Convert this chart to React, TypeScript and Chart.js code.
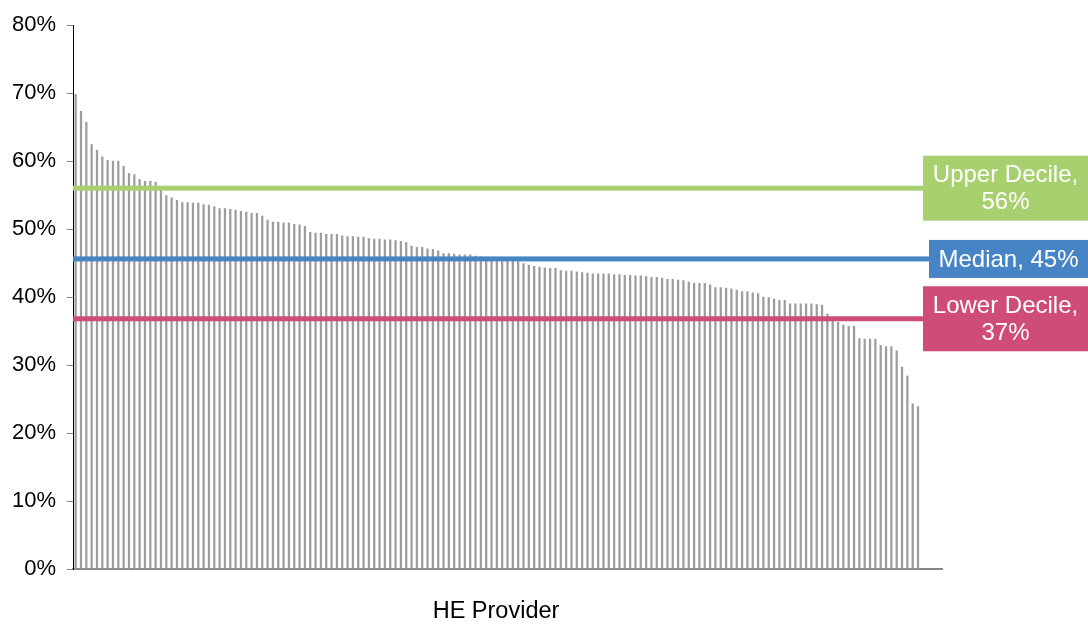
import React, { useEffect, useRef } from 'react';
import { Chart, registerables } from 'chart.js';

Chart.register(...registerables);

// ---- Data ----
const providerCount = 163;
const providers: string[] = Array.from({ length: providerCount }, (_, i) => `Provider ${i + 1}`);

const rates: number[] = [
  69.8, 67.3, 65.7, 62.4, 61.6, 60.6, 60.1, 60.0, 60.0, 59.2,
  58.2, 58.0, 57.3, 57.0, 57.0, 56.9, 56.0, 54.9, 54.6, 54.2,
  53.9, 53.9, 53.8, 53.8, 53.6, 53.5, 53.3, 53.0, 53.0, 52.9,
  52.8, 52.6, 52.5, 52.3, 52.3, 51.9, 51.3, 51.0, 51.0, 50.9,
  50.9, 50.7, 50.6, 50.4, 49.5, 49.4, 49.4, 49.2, 49.2, 49.2,
  49.0, 48.9, 48.9, 48.8, 48.8, 48.6, 48.5, 48.5, 48.4, 48.4,
  48.3, 48.2, 48.0, 47.5, 47.3, 47.3, 47.1, 47.0, 46.8, 46.4,
  46.4, 46.3, 46.2, 46.2, 46.2, 46.0, 45.9, 45.8, 45.7, 45.6,
  45.5, 45.4, 45.3, 45.2, 44.9, 44.7, 44.5, 44.4, 44.3, 44.2,
  44.2, 43.9, 43.8, 43.8, 43.7, 43.6, 43.5, 43.4, 43.4, 43.4,
  43.4, 43.3, 43.3, 43.2, 43.2, 43.1, 43.1, 43.0, 42.9, 42.9,
  42.8, 42.6, 42.6, 42.5, 42.4, 42.2, 42.0, 42.0, 42.0, 41.8,
  41.4, 41.4, 41.3, 41.2, 41.0, 40.8, 40.8, 40.6, 40.5, 40.0,
  39.9, 39.7, 39.5, 39.5, 39.0, 39.0, 39.0, 39.0, 39.0, 38.9,
  38.8, 37.5, 37.0, 36.3, 35.9, 35.7, 35.7, 33.9, 33.8, 33.8,
  33.8, 32.9, 32.7, 32.7, 32.1, 29.7, 28.4, 24.3, 23.9,
];

const yTickValues: number[] = [0, 10, 20, 30, 40, 50, 60, 70, 80];

const refNames: string[][] = [['Upper Decile,', '56%'], ['Median, 45%'], ['Lower Decile,', '37%']];
const refValues: number[] = [56.0, 45.6, 36.8];

const xAxisTitle = 'HE Provider';

// ---- Styles ----
const FONT = '"Liberation Sans", Arial, sans-serif';
const refStyles = [
  { color: '#a9d06f', boxLeft: 923 },
  { color: '#4784c6', boxLeft: 929 },
  { color: '#cf4c78', boxLeft: 923 },
];

const refPlugin = {
  id: 'refLines',
  afterDatasetsDraw(chart: any) {
    const { ctx, chartArea, scales } = chart;
    const y = scales.y;
    const W = chart.width;
    ctx.save();
    refValues.forEach((v, i) => {
      const st = refStyles[i];
      const py = y.getPixelForValue(v);
      ctx.fillStyle = st.color;
      ctx.fillRect(chartArea.left, py - 2.5, st.boxLeft - chartArea.left, 5);
      const lines = refNames[i];
      const lh = 27;
      const h = lh * lines.length + 11;
      ctx.fillRect(st.boxLeft, py - h / 2, W - st.boxLeft, h);
      ctx.fillStyle = '#ffffff';
      ctx.font = `24px ${FONT}`;
      ctx.textAlign = 'center';
      ctx.textBaseline = 'middle';
      const cx = (st.boxLeft + W) / 2;
      lines.forEach((t, j) => {
        ctx.fillText(t, cx, py + (j - (lines.length - 1) / 2) * lh + 1);
      });
    });
    ctx.fillStyle = '#000000';
    ctx.font = `23.5px ${FONT}`;
    ctx.textAlign = 'center';
    ctx.textBaseline = 'middle';
    ctx.fillText(xAxisTitle, 496, 612);
    ctx.restore();
  },
};

export default function App() {
  const canvasRef = useRef<HTMLCanvasElement | null>(null);

  useEffect(() => {
    if (!canvasRef.current) return;
    const data = providers.map((_, i) => (i < rates.length ? rates[i] : null));
    const chart = new Chart(canvasRef.current, {
      type: 'bar',
      data: {
        labels: providers,
        datasets: [
          {
            label: 'Rate',
            data,
            backgroundColor: '#9d9d9d',
            borderWidth: 0,
            barThickness: 1.6,
          },
        ],
      },
      options: {
        responsive: false,
        animation: false,
        devicePixelRatio: 1,
        layout: { padding: { left: 1, top: 25, right: 146, bottom: 0 } },
        plugins: {
          legend: { display: false },
          tooltip: { enabled: false },
        },
        scales: {
          x: {
            grid: { display: true, drawOnChartArea: false, drawTicks: false },
            border: { display: true, color: '#898989', width: 2 },
            ticks: { display: false },
            afterFit: (s: any) => {
              s.height = 55;
            },
          },
          y: {
            min: 0,
            max: 80,
            afterBuildTicks: (s: any) => {
              s.ticks = yTickValues.map((v) => ({ value: v }));
            },
            grid: {
              display: true,
              drawOnChartArea: false,
              drawTicks: true,
              tickLength: 6,
              color: '#898989',
              lineWidth: 1,
            },
            border: { display: true, color: '#000000', width: 1 },
            ticks: {
              padding: 11,
              color: '#000000',
              font: { family: FONT, size: 22 },
              callback: (v: any) => `${v}%`,
            },
            afterFit: (s: any) => {
              s.width = 72;
            },
          },
        },
      },
      plugins: [refPlugin],
    });
    return () => chart.destroy();
  }, []);

  return (
    <div style={{ position: 'absolute', left: 0, top: 0, width: 1088, height: 624, background: '#fff' }}>
      <canvas ref={canvasRef} width={1088} height={624} />
    </div>
  );
}
